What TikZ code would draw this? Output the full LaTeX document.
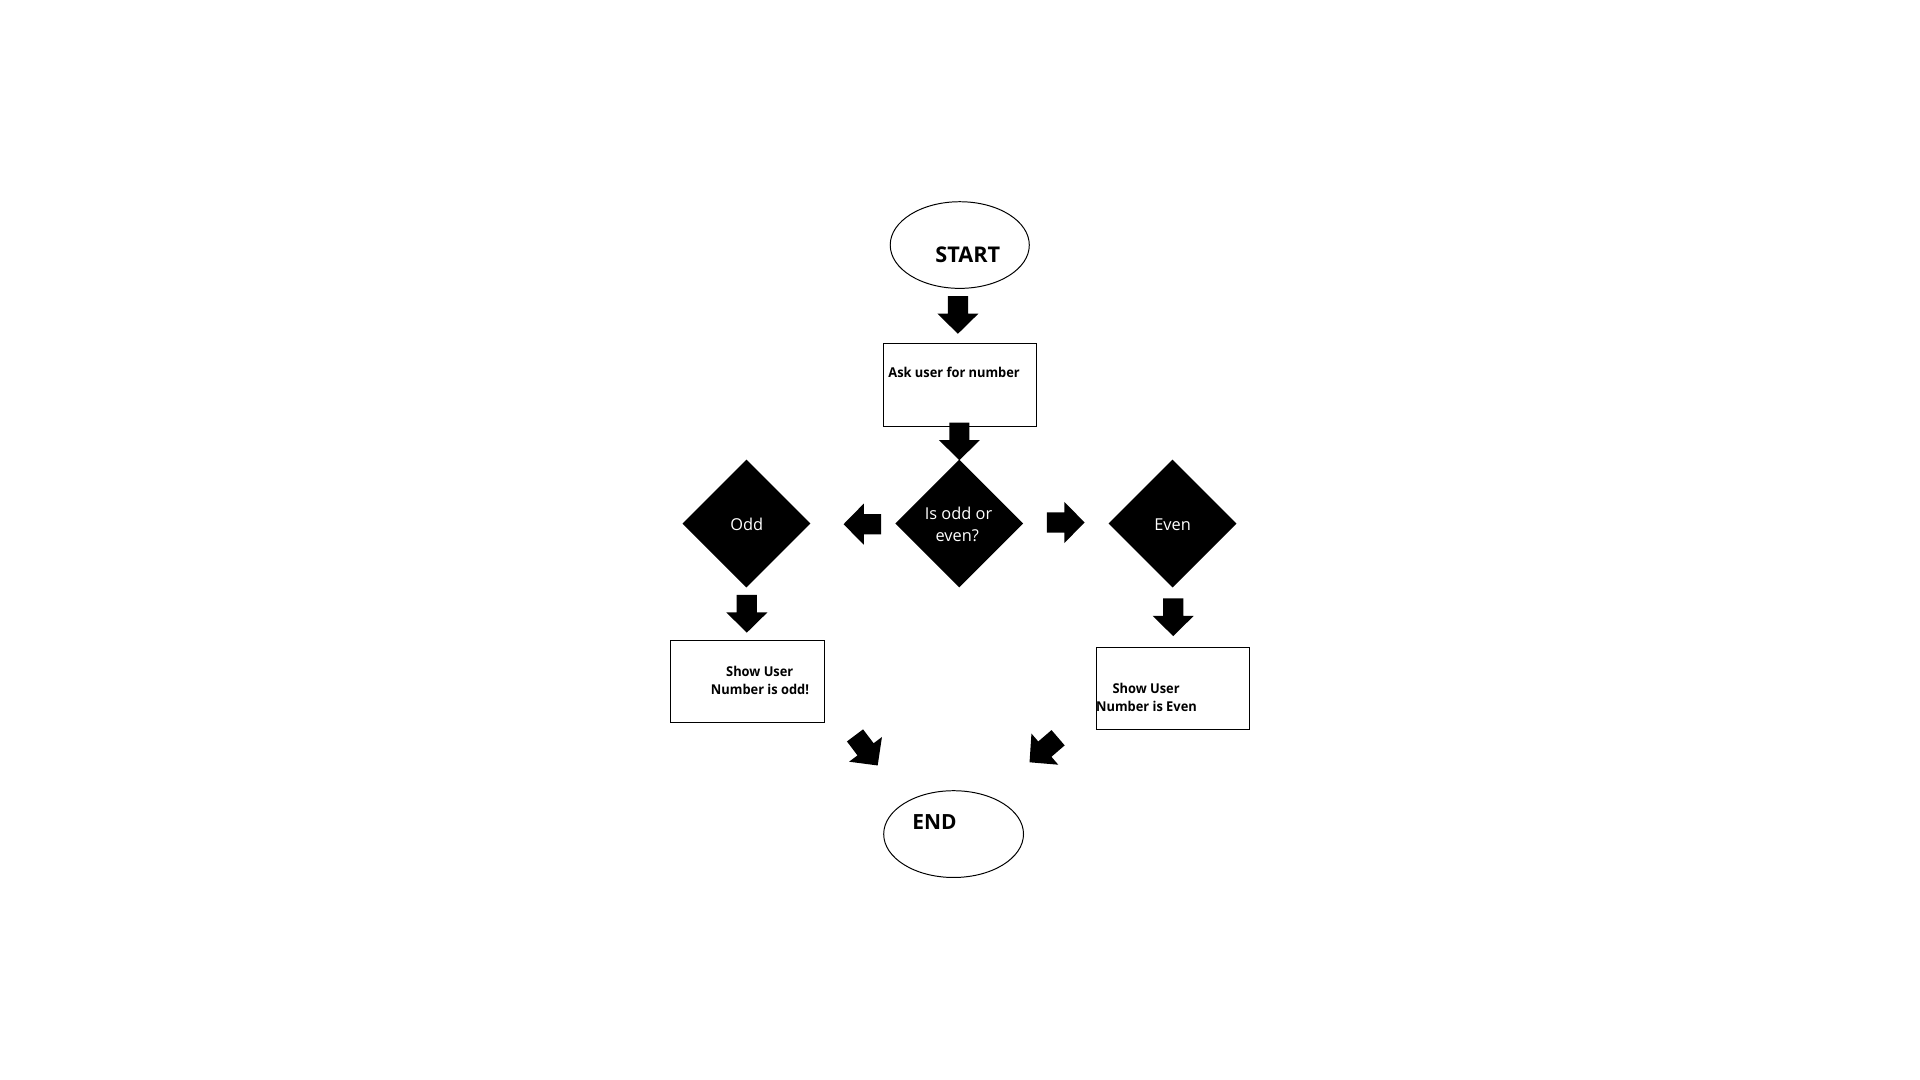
\documentclass[tikz,border=0pt]{standalone}
\usepackage{fontspec}
\setmainfont{Open Sans}
\newfontfamily\condfont[FakeStretch=0.95]{Open Sans}
\usetikzlibrary{shapes.geometric}
\tikzset{
  terminal/.style={ellipse, draw=black, line width=0.8pt, inner sep=0pt},
  procbox/.style={rectangle, draw=black, line width=0.8pt, inner sep=0pt, fill=white},
  decision/.style={diamond, fill=black, inner sep=0pt, minimum width=104pt, minimum height=104pt},
  bigtxt/.style={font=\fontsize{17.6}{20}\selectfont\bfseries, inner sep=0pt, anchor=base},
  boxtxt/.style={font=\fontsize{11}{14}\selectfont\condfont\bfseries, inner sep=0pt, anchor=base},
  dectxt/.style={font=\fontsize{13.3}{18.4}\selectfont, text=white, inner sep=0pt, anchor=base},
  blockarrow/.pic={\fill[black] (0,-8.2)--(14.2,-8.2)--(14.2,-16.7)--(30.6,0)--(14.2,16.7)--(14.2,8.2)--(0,8.2)--cycle;}
}
\begin{document}
\begin{tikzpicture}[x=1pt,y=-1pt]
\fill[white] (0,0) rectangle (1560,877.5);
\path[use as bounding box] (0,0) rectangle (1560,877.5);

% terminals
\node[terminal, minimum width=113pt, minimum height=70.4pt] (start) at (779.8,199.1) {};
\node[bigtxt] (starttxt) at (786.3,213.5) {START};
\node[terminal, minimum width=113.6pt, minimum height=70.5pt] (end) at (774.8,677.7) {};
\node[bigtxt, font=\fontsize{17}{20}\selectfont\bfseries] (endtxt) at (759.2,674) {END};

% process boxes
\node[procbox, minimum width=124.6pt, minimum height=67.8pt] (ask) at (780,312.9) {};
\node[boxtxt, anchor=base west] (asktxt) at (721.6,306.7) {Ask user for number};

\node[procbox, minimum width=125pt, minimum height=67.2pt] (oddbox) at (607.1,553.6) {};
\node[boxtxt] (oddtxta) at (617.3,549.3) {Show User};
\node[boxtxt] (oddtxtb) at (617.5,564.2) {Number is odd!};

\node[procbox, minimum width=124.4pt, minimum height=66.7pt] (evenbox) at (952.9,559.35) {};
\node[boxtxt] (eventxta) at (931.2,563.4) {Show User};
\node[boxtxt] (eventxtb) at (931.5,577.8) {Number is Even};

% decisions
\node[decision] (q) at (779.4,425.4) {};
\node[dectxt] (qtxta) at (778.8,421.7) {Is odd or};
\node[dectxt] (qtxtb) at (777.7,440.1) {even?};
\node[decision] (odd) at (606.5,425.4) {};
\node[dectxt] (oddtxt) at (606.8,430.8) {Odd};
\node[decision] (even) at (952.7,425.4) {};
\node[dectxt] (eventxt) at (952.7,430.8) {Even};

% block arrows
\pic[rotate=-90] at (778.3,240.6) {blockarrow};
\pic[rotate=-90] at (779.5,343.3) {blockarrow};
\pic[rotate=180] at (716,425.9) {blockarrow};
\pic at (850.6,424.5) {blockarrow};
\pic[rotate=-90] at (606.8,483.4) {blockarrow};
\pic[rotate=-90] at (953.2,486.2) {blockarrow};
\pic[rotate=-53] at (694.7,597.5) {blockarrow};
\pic[rotate=-139.3] at (859.7,599.4) {blockarrow};
\end{tikzpicture}
\end{document}
